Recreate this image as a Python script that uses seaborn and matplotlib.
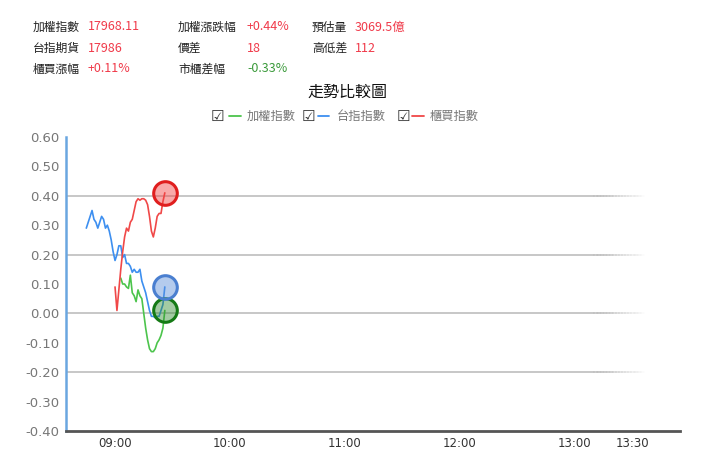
import seaborn as sns
import pandas as pd
import matplotlib.pyplot as plt
from matplotlib.lines import Line2D

# 分鐘 (相對 09:00)
tx_start = 3      # 加權指數
fut_start = -15   # 台指期貨
otc_start = 0     # 櫃買指數

tx_values = [0.12, 0.10, 0.10, 0.09, 0.085, 0.13, 0.07, 0.06, 0.04, 0.08, 0.06, 0.05,
             0.00, -0.05, -0.09, -0.12, -0.13, -0.13, -0.12, -0.10, -0.09, -0.075, -0.05, 0.01]
fut_values = [0.29, 0.31, 0.33, 0.35, 0.32, 0.31, 0.29, 0.31, 0.33, 0.32, 0.29, 0.30, 0.28,
              0.25, 0.21, 0.18, 0.20, 0.23, 0.23, 0.19, 0.20, 0.17, 0.17, 0.16, 0.14, 0.15,
              0.14, 0.14, 0.15, 0.11, 0.09, 0.07, 0.04, 0.01, -0.01, -0.01, -0.015, -0.01,
              -0.01, 0.01, 0.03, 0.09]
otc_values = [0.09, 0.01, 0.08, 0.15, 0.21, 0.26, 0.29, 0.28, 0.31, 0.32, 0.35, 0.38, 0.39,
              0.385, 0.39, 0.39, 0.385, 0.37, 0.33, 0.28, 0.26, 0.29, 0.33, 0.34, 0.34, 0.38, 0.41]

series_names = ['加權指數', '台指指數', '櫃買指數']
line_colors = ['#4cc44c', '#3d8ff0', '#f04848']
face_colors = [(0.20, 0.55, 0.20, 0.45), (0.35, 0.55, 0.85, 0.45), (0.95, 0.25, 0.25, 0.45)]
edge_colors = ['#157a15', '#4a7fd0', '#e01e1e']

tick_pos = [0, 60, 120, 180, 240, 270]
tick_labels = ['09:00', '10:00', '11:00', '12:00', '13:00', '13:30']
y_ticks = [0.6, 0.5, 0.4, 0.3, 0.2, 0.1, 0.0, -0.1, -0.2, -0.3, -0.4]

header = [
    ('加權指數', '17968.11', 'r'), ('加權漲跌幅', '+0.44%', 'r'), ('預估量', '3069.5億', 'r'),
    ('台指期貨', '17986', 'r'), ('價差', '18', 'r'), ('高低差', '112', 'r'),
    ('櫃買漲幅', '+0.11%', 'r'), ('市櫃差幅', '-0.33%', 'g'),
]

frames = []
for name, start, vals in zip(series_names, [tx_start, fut_start, otc_start],
                             [tx_values, fut_values, otc_values]):
    frames.append(pd.DataFrame({'minute': range(start, start + len(vals)),
                                'value': vals, 'series': name}))
df = pd.concat(frames, ignore_index=True)

sns.set_theme(style="white")
plt.rcParams['font.family'] = ['DejaVu Sans', 'Noto Sans CJK TC']
cjk = ['Noto Sans CJK TC', 'DejaVu Sans']

fig = plt.figure(figsize=(7.2, 4.76), dpi=100)
ax = fig.add_axes([66 / 720, 1 - 431 / 476, (680 - 66) / 720, (431 - 137) / 476])

sns.lineplot(data=df, x='minute', y='value', hue='series', hue_order=series_names,
             palette=line_colors, linewidth=1.2, legend=False, ax=ax, zorder=3)

# 最後一點的圓圈 (半透明)
for name, fc, ec in zip(series_names, face_colors, edge_colors):
    last = df[df['series'] == name].iloc[-1]
    ax.plot(last['minute'], last['value'], 'o', ms=17, mfc=fc, mec=ec, mew=2.2, zorder=5)

ax.set_xlim(-25.6, 295)
ax.set_ylim(-0.4, 0.6)

# 格線 (右端漸淡)
for g in [0.4, 0.2, 0.0, -0.2]:
    ax.axhline(g, xmin=0, xmax=0.86, color='#bdbdbd', lw=1.2, zorder=0)
    for i in range(16):
        ax.axhline(g, xmin=0.86 + i * 0.005, xmax=0.866 + i * 0.005, color='#bdbdbd',
                   lw=1.2, alpha=1 - (i + 1) / 17, zorder=0)

ax.set_yticks(y_ticks)
ax.set_yticklabels([f'{v:.2f}' for v in y_ticks], color='#777777', fontsize=9.5)
ax.set_xticks(tick_pos)
ax.set_xticklabels(tick_labels, color='#333333', fontsize=8.5)
ax.tick_params(axis='both', length=0)
ax.tick_params(axis='y', pad=5)
ax.tick_params(axis='x', pad=4)
ax.set_xlabel('')
ax.set_ylabel('')

for s in ['top', 'right']:
    ax.spines[s].set_visible(False)
ax.spines['left'].set_color('#6aa6e0')
ax.spines['left'].set_linewidth(1.8)
ax.spines['bottom'].set_color('#555555')
ax.spines['bottom'].set_linewidth(2)

# 上方資訊
col_x = [(33, 88), (178, 247), (312, 355)]
row_y = [27, 48, 69]
for i, (lab, val, c) in enumerate(header):
    r, col = divmod(i, 3)
    lx, vx = col_x[col]
    fig.text(lx / 720, 1 - row_y[r] / 476, lab, family=cjk, fontsize=8.5,
             color='#222222', va='center')
    fig.text(vx / 720, 1 - row_y[r] / 476, val, family=cjk, fontsize=9,
             color='#f03a4a' if c == 'r' else '#3a9a3a', va='center')

fig.text(347 / 720, 1 - 92 / 476, '走勢比較圖', family=cjk, fontsize=11.5,
         color='#111111', ha='center', va='center')

# 圖例
leg_y = 1 - 116 / 476
for bx, lx0, lx1, tx, name, c in zip([217, 308, 403], [229, 318, 412], [241, 329, 424],
                                      [247, 337, 430], series_names, line_colors):
    fig.text(bx / 720, leg_y, '☑', fontsize=11, color='#333333', ha='center', va='center',
             family=['DejaVu Sans'])
    fig.add_artist(Line2D([lx0 / 720, lx1 / 720], [leg_y, leg_y], color=c, lw=1.3,
                          transform=fig.transFigure))
    fig.text(tx / 720, leg_y, name, family=cjk, fontsize=8.8, color='#777777', va='center')

plt.savefig('out.png', dpi=100)
